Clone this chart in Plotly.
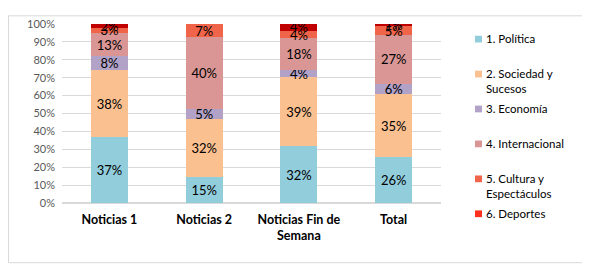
import plotly.graph_objects as go

categories = ["Noticias 1", "Noticias 2", "Noticias Fin de<br>Semana", "Total"]
series_names = ["1. Política", "2. Sociedad y Sucesos", "3. Economía",
                "4. Internacional", "5. Cultura y Espectáculos", "6. Deportes"]
legend_labels = ["1. Política", "2. Sociedad y<br>Sucesos", "3. Economía",
                 "4. Internacional", "5. Cultura y<br>Espectáculos", "6. Deportes"]

politica = [36.6, 14.7, 31.6, 25.6]
sociedad = [37.6, 32.2, 38.6, 35.2]
economia = [7.7, 5.4, 4.0, 5.9]
internacional = [12.9, 40.3, 17.8, 27.0]
cultura = [3.2, 7.4, 4.1, 5.2]
deportes = [2.0, 0.0, 3.9, 1.1]

y_ticks = [0, 10, 20, 30, 40, 50, 60, 70, 80, 90, 100]

series_values = [politica, sociedad, economia, internacional, cultura, deportes]
bar_colors = ["#92CDDC", "#FAC090", "#B3A2C7", "#D99694", "#F0644A", "#C00000"]
legend_colors = ["#92CDDC", "#FAC090", "#B3A2C7", "#D99694", "#F0644A", "#FF301C"]

FONT = "Lato"

fig = go.Figure()
for name, vals, col in zip(series_names, series_values, bar_colors):
    fig.add_trace(go.Bar(
        x=categories, y=vals, name=name,
        marker=dict(color=col, line=dict(width=0)),
        text=[f"{round(v)}%" if v > 0 else "" for v in vals],
        textposition="inside", insidetextanchor="middle",
        textfont=dict(family=FONT, size=13, color="#000000"),
        constraintext="none",
        showlegend=False, hoverinfo="skip",
    ))

# page has an 8px body margin; figure placed at (8, 8)
OFF = 8
W, H = 582, 264
L, T = 62 - OFF, 17 - OFF
R = W - (441 - OFF)
B = H - (203 - OFF)
pw, ph = W - L - R, H - T - B

def px_x(px):
    return (px - OFF - L) / pw

def px_y(py):
    return (H - B - (py - OFF)) / ph

shapes = [dict(type="rect", xref="paper", yref="paper",
               x0=px_x(8.5), x1=px_x(583), y0=px_y(265), y1=px_y(8.5),
               line=dict(color="#D9D9D9", width=1), fillcolor="rgba(0,0,0,0)",
               layer="below")]
annotations = []
for i, (lab, col) in enumerate(zip(legend_labels, legend_colors)):
    cy = 32.7 + 36.3 * i
    shapes.append(dict(type="rect", xref="paper", yref="paper",
                       x0=px_x(475), x1=px_x(482), y0=px_y(cy + 3.5), y1=px_y(cy - 3.5),
                       line=dict(width=0), fillcolor=col))
    annotations.append(dict(xref="paper", yref="paper", x=px_x(485), y=px_y(cy - 8.2),
                            xanchor="left", yanchor="top", align="left", showarrow=False,
                            text=lab, font=dict(family=FONT, size=11.5, color="#000000"),
                            borderpad=0))

fig.update_layout(
    barmode="stack", bargap=0.61,
    width=W, height=H,
    margin=dict(l=L, r=R, t=T, b=B, pad=0),
    paper_bgcolor="white", plot_bgcolor="white",
    font=dict(family=FONT),
    uniformtext=dict(mode="show", minsize=13),
    shapes=shapes, annotations=annotations,
    showlegend=False,
)
fig.update_yaxes(range=[0, 100], tickvals=y_ticks, ticktext=[f"{t}%" for t in y_ticks],
                 showgrid=True, gridcolor="#D9D9D9", gridwidth=1,
                 zeroline=True, zerolinecolor="#D9D9D9",
                 tickfont=dict(family=FONT, size=11, color="#595959"),
                 ticks="", ticklabelstandoff=6)
fig.update_xaxes(showline=True, linecolor="#D9D9D9", ticks="",
                 tickfont=dict(family=FONT, size=12.5, color="#000000", weight="bold"),
                 ticklabelstandoff=5)

fig.write_html("out.html")
